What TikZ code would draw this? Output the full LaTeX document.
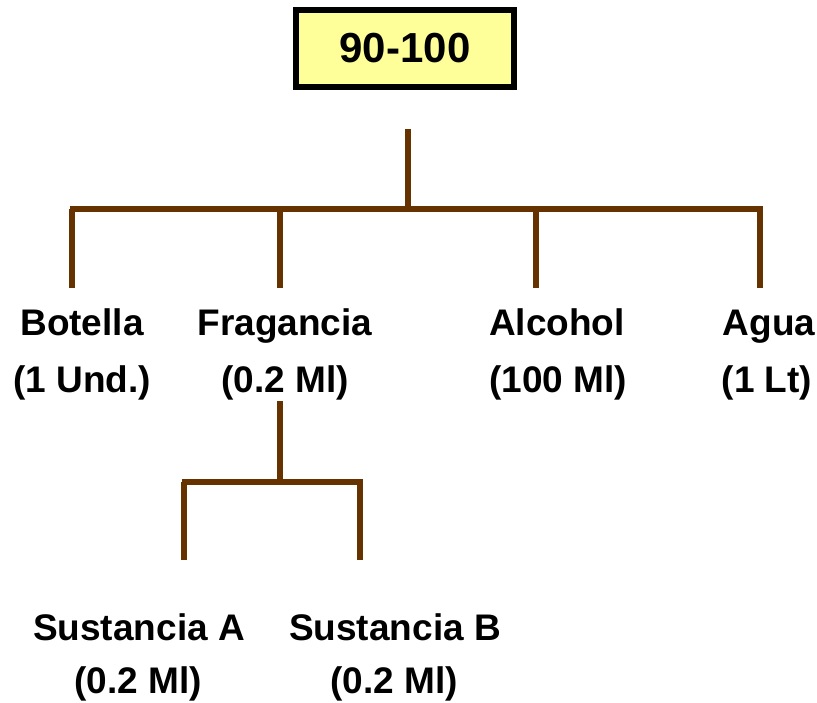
\documentclass[tikz,border=0pt]{standalone}
\usepackage{fontspec}
\setmainfont{Liberation Sans}
\definecolor{branch}{HTML}{663300}
\definecolor{boxfill}{HTML}{FFFF99}
\begin{document}
\begin{tikzpicture}[x=1pt,y=-1pt,
  rootbox/.style={draw=black,fill=boxfill,line width=6pt,minimum width=218pt,minimum height=77pt,
    inner sep=0pt,font=\fontsize{42}{50}\selectfont\bfseries},
  label/.style={anchor=base,inner sep=0pt,font=\fontsize{37}{44}\selectfont\bfseries},
  link/.style={draw=branch,line width=5.5pt}]
\useasboundingbox (0,0) rectangle (817,703);

% root
\node[rootbox] (root) at (405,48.5) {90-100};

% first level labels
\node[label] (botella)  at (82,336)  {Botella};
\node[label] (botellaq) at (82,392)  {(1 Und.)};
\node[label] (frag)     at (285,336) {Fragancia};
\node[label] (fragq)    at (285,392) {(0.2 Ml)};
\node[label] (alcohol)  at (557,336) {Alcohol};
\node[label] (alcoholq) at (558,392) {(100 Ml)};
\node[label] (agua)     at (769,336) {Agua};
\node[label] (aguaq)    at (767,392) {(1 Lt)};

% second level labels
\node[label] (susa)  at (139,640) {Sustancia A};
\node[label] (susaq) at (138,693) {(0.2 Ml)};
\node[label] (susb)  at (395,640) {Sustancia B};
\node[label] (susbq) at (394,693) {(0.2 Ml)};

% branch points
\coordinate (stem)  at (408,129);
\coordinate (hub)   at (408,209);
\coordinate (barl)  at (69.5,209);
\coordinate (barr)  at (762.5,209);
\coordinate (t1) at (72,209);  \coordinate (b1) at (72,288);
\coordinate (t2) at (280,209); \coordinate (b2) at (280,288);
\coordinate (t3) at (536,209); \coordinate (b3) at (536,288);
\coordinate (t4) at (760,209); \coordinate (b4) at (760,288);

\coordinate (fstem) at (280,401);
\coordinate (fhub)  at (280,482);
\coordinate (fbarl) at (181.5,482);
\coordinate (fbarr) at (362.5,482);
\coordinate (s1t) at (184,482); \coordinate (s1b) at (184,560);
\coordinate (s2t) at (360,482); \coordinate (s2b) at (360,560);

% connectors
\draw[link] (stem) -- (hub);
\draw[link] (barl) -- (barr);
\draw[link] (t1) -- (b1);
\draw[link] (t2) -- (b2);
\draw[link] (t3) -- (b3);
\draw[link] (t4) -- (b4);

\draw[link] (fstem) -- (fhub);
\draw[link] (fbarl) -- (fbarr);
\draw[link] (s1t) -- (s1b);
\draw[link] (s2t) -- (s2b);
\end{tikzpicture}
\end{document}
